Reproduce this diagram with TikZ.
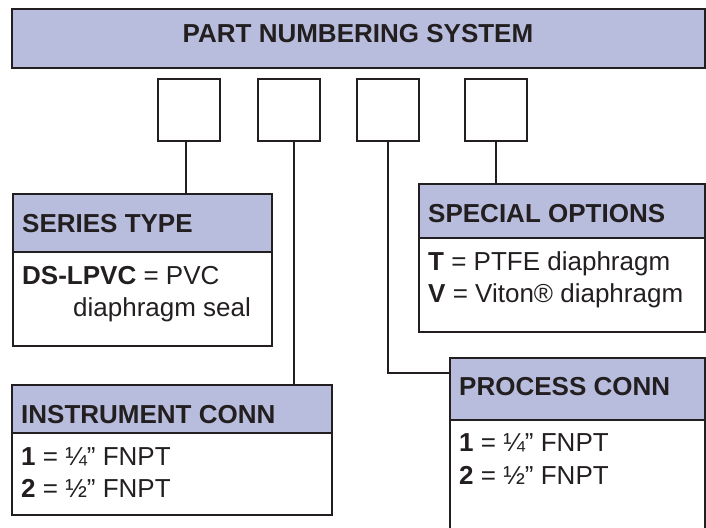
\documentclass[tikz,border=0pt]{standalone}
\usepackage{fontspec}
\setmainfont{Liberation Sans}
\def \titleStr {PART NUMBERING SYSTEM}
\def \seriesTypeStr {SERIES TYPE}
\def \seriesCodeStr {\textbf{DS-LPVC} = PVC}
\def \seriesSealStr {diaphragm seal}
\def \instrumentConnStr {INSTRUMENT CONN}
\def \processConnStr {PROCESS CONN}
\def \specialOptionsStr {SPECIAL OPTIONS}
\def \quarterInchStr {\textbf{1} = ¼” FNPT}
\def \halfInchStr {\textbf{2} = ½” FNPT}
\def \ptfeStr {\textbf{T} = PTFE diaphragm}
\def \vitonStr {\textbf{V} = Viton® diaphragm}
\def \digitBoxSize {62}
\begin{document}
\begin{tikzpicture}[x=1pt,y=-1pt]


\definecolor{headerblue}{RGB}{185,189,221}
\definecolor{edgegray}{RGB}{35,31,32}

\useasboundingbox (0,0) rectangle (706,527);

\begin{scope}[
  frame/.style={draw=edgegray, line width=2pt, rectangle, inner sep=0pt, anchor=north west},
  header/.style={frame, fill=headerblue},
  hdrtext/.style={font=\fontsize{26}{30}\selectfont\bfseries, text=edgegray, inner sep=0pt, anchor=base west},
  bodytext/.style={font=\fontsize{26}{30}\selectfont, text=edgegray, inner sep=0pt, anchor=base west},
  link/.style={draw=edgegray, line width=2pt}]

\clip (0,0) rectangle (706,527);

\node[header, minimum width=693, minimum height=59] (title) at (11,8) {};
\node[hdrtext, anchor=base] (titleText) at (358,43) {\titleStr};

\foreach \i/\x in {1/157, 2/257, 3/356, 4/464}
  \node[frame, minimum width=\digitBoxSize, minimum height=\digitBoxSize] (digit\i) at (\x,78) {};


\node[header, minimum width=259, minimum height=58] (seriesHead) at (12,193) {};
\node[frame, minimum width=259, minimum height=94] (seriesBody) at (12,251) {};

\node[header, minimum width=286, minimum height=54] (specialHead) at (418,183) {};
\node[frame, minimum width=286, minimum height=94] (specialBody) at (418,237) {};

\node[header, minimum width=320, minimum height=48] (instrHead) at (11,384) {};
\node[frame, minimum width=320, minimum height=82] (instrBody) at (11,432) {};

\node[header, minimum width=255, minimum height=62] (processHead) at (449,357) {};
\node[frame, minimum width=255, minimum height=130] (processBody) at (449,419) {};


\node[hdrtext] (seriesText) at ([shift={(10,39)}]seriesHead.north west) {\seriesTypeStr};
\node[hdrtext] (specialText) at ([shift={(10,39)}]specialHead.north west) {\specialOptionsStr};
\node[hdrtext] (instrText) at ([shift={(10,39)}]instrHead.north west) {\instrumentConnStr};
\node[hdrtext] (processText) at ([shift={(10,38)}]processHead.north west) {\processConnStr};

\node[bodytext] (seriesCode) at ([shift={(10,33)}]seriesBody.north west) {\seriesCodeStr};
\node[bodytext] (seriesSeal) at ([shift={(61,65)}]seriesBody.north west) {\seriesSealStr};
\node[bodytext] (specialT) at ([shift={(10,33)}]specialBody.north west) {\ptfeStr};
\node[bodytext] (specialV) at ([shift={(10,65)}]specialBody.north west) {\vitonStr};
\node[bodytext] (instrOne) at ([shift={(10,33)}]instrBody.north west) {\quarterInchStr};
\node[bodytext] (instrTwo) at ([shift={(10,65)}]instrBody.north west) {\halfInchStr};
\node[bodytext] (processOne) at ([shift={(10,32)}]processBody.north west) {\quarterInchStr};
\node[bodytext] (processTwo) at ([shift={(10,65)}]processBody.north west) {\halfInchStr};


\coordinate (seriesDrop) at ([xshift=-3]digit1.south);
\coordinate (instrDrop) at ([xshift=5]digit2.south);
\coordinate (processJoin) at ([yshift=-16]processHead.north west);

\draw[link] (seriesDrop) -- (seriesDrop |- seriesHead.north);
\draw[link] (instrDrop) -- (instrDrop |- instrHead.north);
\draw[link] (digit3.south) |- (processJoin);
\draw[link] (digit4.south) -- (digit4.south |- specialHead.north);


\end{scope}
\end{tikzpicture}
\end{document}
